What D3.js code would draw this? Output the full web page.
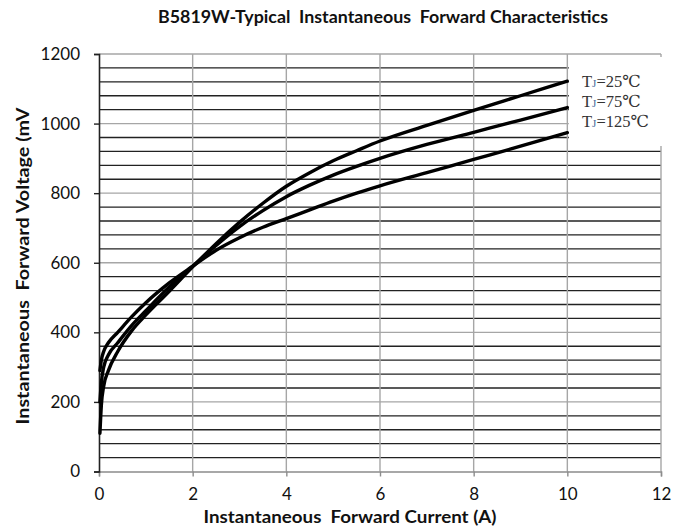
<!DOCTYPE html>
<html><head><meta charset="utf-8">
<script src="https://cdn.jsdelivr.net/npm/d3@7"></script>
<style>body{margin:0;background:#fff}svg{display:block}</style>
</head><body>
<script>
const currents = [0.02, 0.05, 0.1, 0.2, 0.4, 0.7, 1, 1.5, 2, 2.5, 3, 3.5, 4, 4.5, 5, 5.5, 6, 7, 8, 9, 10];
const v25  = [110, 190, 245, 290, 345, 405, 450, 518, 588, 655, 716, 771, 820, 859, 893, 922, 950, 995, 1038, 1080, 1122];
const v75  = [200, 255, 300, 335, 370, 420, 462, 530, 590, 650, 704, 750, 790, 823, 852, 877, 900, 940, 975, 1010, 1046];
const v125 = [290, 320, 345, 370, 400, 445, 485, 542, 590, 636, 672, 702, 727, 752, 777, 800, 821, 859, 897, 935, 974];
const seriesNames = ["25\u2103", "75\u2103", "125\u2103"];
const xTicks = [0, 2, 4, 6, 8, 10, 12];
const yTicks = [0, 200, 400, 600, 800, 1000, 1200];
const yMinor = d3.range(0, 1201, 40).filter(v => v % 200 !== 0);

const W = 689, H = 530;
const svg = d3.select("body").append("svg").attr("width", W).attr("height", H);
const x = d3.scaleLinear().domain([0, 12]).range([99, 661]);
const y = d3.scaleLinear().domain([0, 1200]).range([471.5, 54]);
const font = "Lato, 'Open Sans', sans-serif";

// minor horizontal grid
svg.append("g").selectAll("line").data(yMinor).join("line")
  .attr("x1", x(0)).attr("x2", x(12)).attr("y1", d => y(d)).attr("y2", d => y(d))
  .attr("stroke", "#222").attr("stroke-width", 1.4);
// major horizontal grid
svg.append("g").selectAll("line").data(yTicks.filter(d => d > 0)).join("line")
  .attr("x1", x(0)).attr("x2", x(12)).attr("y1", d => y(d)).attr("y2", d => y(d))
  .attr("stroke", "#a6a6a6").attr("stroke-width", 1.4);
// vertical grid
svg.append("g").selectAll("line").data(xTicks.filter(d => d > 0)).join("line")
  .attr("x1", d => x(d)).attr("x2", d => x(d)).attr("y1", y(0)).attr("y2", y(1200))
  .attr("stroke", "#a6a6a6").attr("stroke-width", 1.4);

// legend box (white, covers grid)
svg.append("rect").attr("x", x(10) + 1.5).attr("y", 57).attr("width", x(12) - x(10) + 1).attr("height", 89).attr("fill", "#fff");

// x axis
const xAxis = svg.append("g").attr("transform", `translate(0,${y(0)})`)
  .call(d3.axisBottom(x).tickValues(xTicks).tickSize(5).tickPadding(11).tickFormat(d3.format("d")));
xAxis.select(".domain").attr("stroke", "#8c8c8c").attr("stroke-width", 1.4);
xAxis.selectAll(".tick line").attr("stroke", "#8c8c8c").attr("stroke-width", 1.4);
xAxis.selectAll("text").attr("font-family", font).attr("font-size", 17).attr("fill", "#111");

// y axis
const yAxis = svg.append("g").attr("transform", `translate(${x(0)},0)`)
  .call(d3.axisLeft(y).tickValues(yTicks).tickSize(5).tickPadding(14).tickFormat(d3.format("d")));
yAxis.select(".domain").attr("stroke", "#222").attr("stroke-width", 1.6);
yAxis.selectAll(".tick line").attr("stroke", "#222").attr("stroke-width", 1.4);
yAxis.selectAll("text").attr("font-family", font).attr("font-size", 17).attr("fill", "#111");

// curves
const line = d3.line().x(d => x(d[0])).y(d => y(d[1])).curve(d3.curveMonotoneX);
[v25, v75, v125].forEach(vals => {
  svg.append("path").datum(currents.map((c, i) => [c, vals[i]]))
    .attr("d", line).attr("fill", "none").attr("stroke", "#000").attr("stroke-width", 3.4)
    .attr("stroke-linecap", "round");
});

// legend text
const legY = [82, 102, 122];
seriesNames.forEach((n, i) => {
  const t = svg.append("text").attr("x", 582).attr("y", legY[i] + 5)
    .attr("font-family", "'Liberation Serif', 'DejaVu Serif', serif").attr("font-size", 16.5).attr("fill", "#333");
  t.append("tspan").text("T");
  t.append("tspan").attr("font-size", 11).attr("fill", "#4a6a9a").text("J");
  t.append("tspan").text("=" + n);
});

// titles
svg.append("text").attr("x", 383).attr("y", 23).attr("text-anchor", "middle")
  .attr("font-family", font).attr("font-weight", "bold").attr("font-size", 16.5).attr("fill", "#111")
  .attr("textLength", 450).attr("lengthAdjust", "spacingAndGlyphs")
  .style("white-space", "pre").text("B5819W-Typical  Instantaneous  Forward Characteristics");
svg.append("text").attr("x", 350).attr("y", 523).attr("text-anchor", "middle")
  .attr("font-family", font).attr("font-weight", "bold").attr("font-size", 16.5).attr("fill", "#111")
  .attr("textLength", 293).attr("lengthAdjust", "spacingAndGlyphs")
  .style("white-space", "pre").text("Instantaneous  Forward Current (A)");
svg.append("text").attr("transform", "translate(29,266) rotate(-90)").attr("text-anchor", "middle")
  .attr("font-family", font).attr("font-weight", "bold").attr("font-size", 16.5).attr("fill", "#111")
  .attr("textLength", 317).attr("lengthAdjust", "spacingAndGlyphs")
  .style("white-space", "pre").text("Instantaneous  Forward Voltage (mV");
</script>
</body></html>
